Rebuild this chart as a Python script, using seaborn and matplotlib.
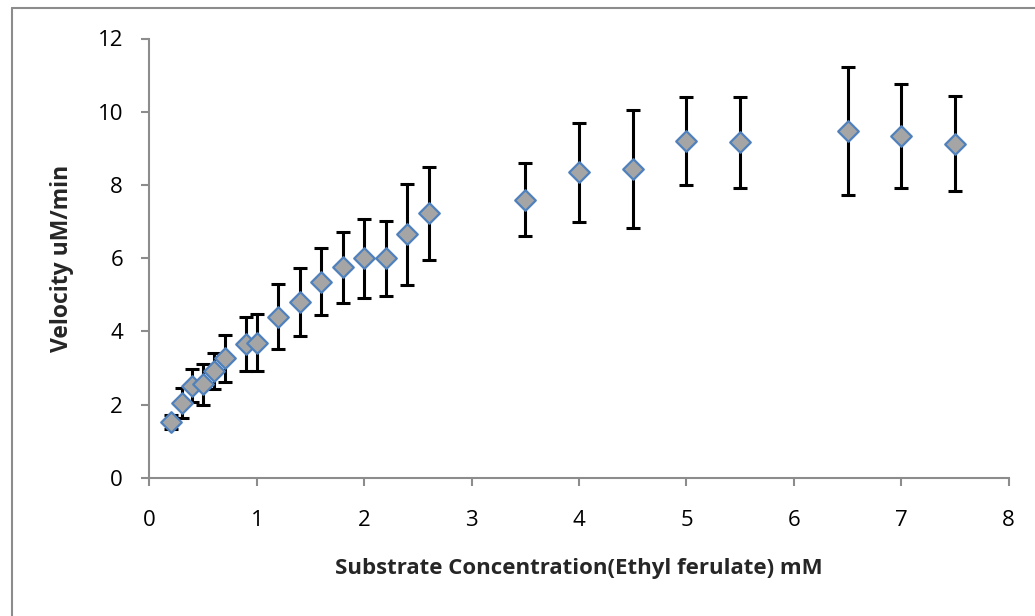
import matplotlib
matplotlib.use("Agg")
import matplotlib.pyplot as plt
import seaborn as sns
import pandas as pd
from matplotlib.lines import Line2D

substrate_mM = [0.2, 0.3, 0.4, 0.5, 0.6, 0.7, 0.9, 1.0, 1.2, 1.4, 1.6, 1.8, 2.0, 2.2, 2.4, 2.6,
                3.5, 4.0, 4.5, 5.0, 5.5, 6.5, 7.0, 7.5]
velocity = [1.53, 2.05, 2.51, 2.55, 2.92, 3.26, 3.65, 3.69, 4.40, 4.81, 5.36, 5.75, 5.99, 5.99, 6.65, 7.22,
            7.60, 8.34, 8.43, 9.20, 9.16, 9.47, 9.34, 9.12]
error = [0.19, 0.41, 0.45, 0.56, 0.50, 0.64, 0.74, 0.78, 0.89, 0.93, 0.92, 0.97, 1.08, 1.03, 1.38, 1.26,
         1.00, 1.34, 1.62, 1.20, 1.25, 1.75, 1.43, 1.30]

x_ticks = [0, 1, 2, 3, 4, 5, 6, 7, 8]
y_ticks = [0, 2, 4, 6, 8, 10, 12]

df = pd.DataFrame({"x": substrate_mM, "y": velocity, "err": error})

sns.set_theme(style="white")
plt.rcParams['font.family'] = ['Open Sans', 'DejaVu Sans']

fig = plt.figure(figsize=(10.35, 6.16), dpi=100)
ax = fig.add_axes([0.1444, 0.2245, 0.8302, 0.713])

ax.errorbar(df["x"], df["y"], yerr=df["err"], fmt="none", ecolor="black",
            elinewidth=2.2, capsize=5, capthick=2.2, zorder=2)
sns.scatterplot(data=df, x="x", y="y", ax=ax, marker="D", s=110,
                color="#A5A5A5", edgecolor="#4F81BD", linewidth=1.6, zorder=3, legend=False)

ax.set_xlim(0, 8)
ax.set_ylim(0, 12)
ax.set_xticks(x_ticks)
ax.set_yticks(y_ticks)
ax.set_xticklabels([str(t) for t in x_ticks])
ax.set_yticklabels([str(t) for t in y_ticks])

for s in ["top", "right"]:
    ax.spines[s].set_visible(False)
for s in ["left", "bottom"]:
    ax.spines[s].set_color("#8C8C8C")
    ax.spines[s].set_linewidth(1.5)

ax.tick_params(axis="both", direction="out", length=6, width=1.5, color="#8C8C8C",
               labelsize=16, labelcolor="black", bottom=True, left=True)
ax.tick_params(axis="x", pad=17)
ax.tick_params(axis="y", pad=13)

ax.set_xlabel("Substrate Concentration(Ethyl ferulate) mM", fontsize=16, fontweight="bold", labelpad=20)
ax.set_ylabel("Velocity uM/min", fontsize=16.5, fontweight="bold", labelpad=17)

# outer chart border
fig.add_artist(Line2D([12/1035, 12/1035], [0, 1 - 8/616], color="#8C8C8C", linewidth=1.5,
                      transform=fig.transFigure))
fig.add_artist(Line2D([12/1035, 1], [1 - 8/616, 1 - 8/616], color="#8C8C8C", linewidth=1.5,
                      transform=fig.transFigure))

fig.savefig("out.png", dpi=100)
